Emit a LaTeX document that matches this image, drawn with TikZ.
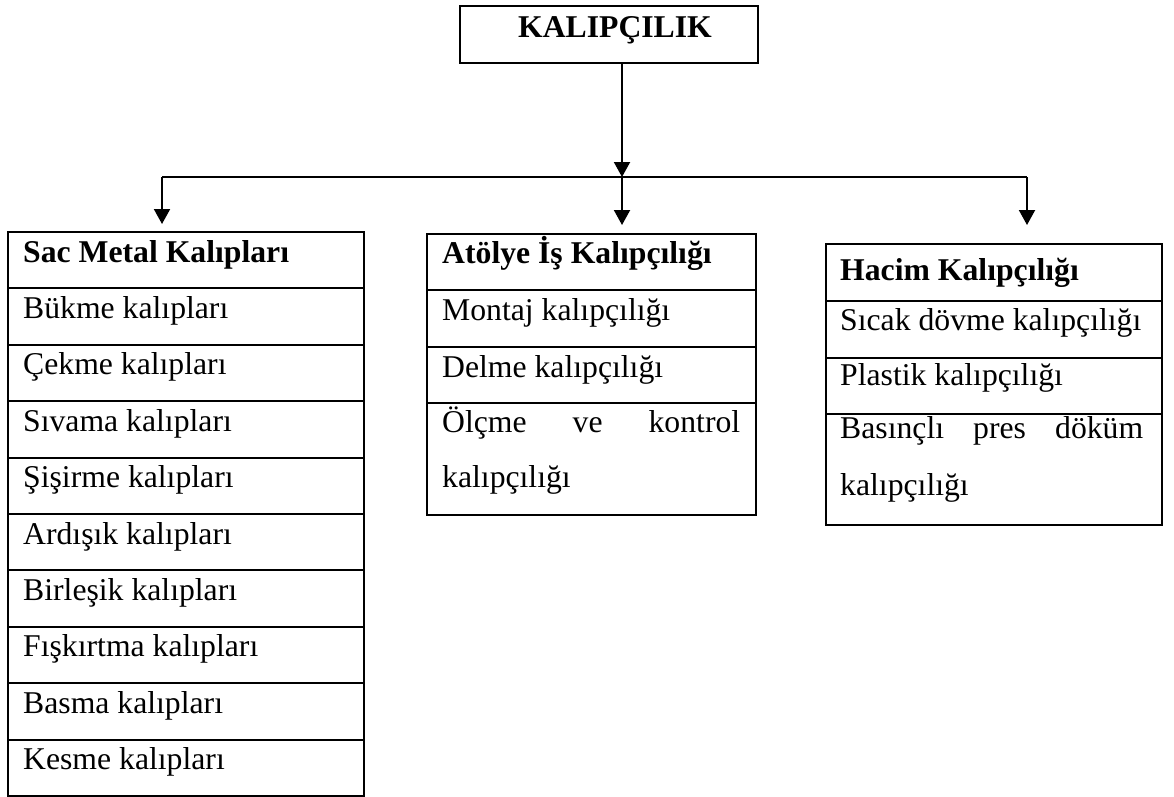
\documentclass[tikz,border=0pt]{standalone}
\usepackage{fontspec}
\setmainfont{Liberation Serif}
\usetikzlibrary{arrows.meta}
\begin{document}
\begin{tikzpicture}[x=1pt,y=-1pt,
  frame/.style={draw, line width=2pt, inner sep=0pt, anchor=north west},
  lbl/.style={anchor=base west, inner sep=0pt, font=\fontsize{31.7}{38}\selectfont},
  hd/.style={anchor=base west, inner sep=0pt, font=\fontsize{31.7}{38}\selectfont\bfseries},
  arr/.style={line width=2pt, -{Triangle[length=15pt,width=16pt]}},
  bus/.style={line width=1.5pt}]
\useasboundingbox (0,0) rectangle (1174,796);

% top box
\node[frame, minimum width=298pt, minimum height=57pt] (top) at (459,5) {};
\node[hd, anchor=base] (toptxt) at (615,37) {KALIPÇILIK};

% bus
\coordinate (jm) at (622,177);
\coordinate (jl) at (162,177);
\coordinate (jr) at (1027,177);
\draw[bus] (jl) -- (jr);
\draw[arr] (top.south -| jm) -- (jm);

% left box
\node[frame, minimum width=356pt, minimum height=56.4pt] (l0) at (7,231) {};
\node[hd] (lt0) at ([xshift=16pt,yshift=-31pt]l0.north west) {Sac Metal Kalıpları};
\foreach \txt [count=\i] in {Bükme kalıpları, Çekme kalıpları, Sıvama kalıpları, Şişirme kalıpları, Ardışık kalıpları, Birleşik kalıpları, Fışkırtma kalıpları, Basma kalıpları, Kesme kalıpları}{
  \node[frame, minimum width=356pt, minimum height=56.4pt] (l\i) at (7,{231+56.4*\i}) {};
  \node[lbl] (lt\i) at ([xshift=16pt,yshift=-31pt]l\i.north west) {\txt};
}

% middle box
\node[frame, minimum width=329pt, minimum height=56pt] (m0) at (426,233) {};
\node[frame, minimum width=329pt, minimum height=57pt] (m1) at (426,289) {};
\node[frame, minimum width=329pt, minimum height=56pt] (m2) at (426,346) {};
\node[frame, minimum width=329pt, minimum height=112pt] (m3) at (426,402) {};
\node[hd] (mt0) at (442,263) {Atölye İş Kalıpçılığı};
\node[lbl] (mt1) at (442,320) {Montaj kalıpçılığı};
\node[lbl] (mt2) at (442,377) {Delme kalıpçılığı};
\node[lbl] (mt3) at (442,432) {\makebox[298pt][l]{Ölçme\hfill ve\hfill kontrol}};
\node[lbl] (mt4) at (442,487) {kalıpçılığı};

% right box
\node[frame, minimum width=336pt, minimum height=57pt] (r0) at (825,243) {};
\node[frame, minimum width=336pt, minimum height=57pt] (r1) at (825,300) {};
\node[frame, minimum width=336pt, minimum height=56pt] (r2) at (825,357) {};
\node[frame, minimum width=336pt, minimum height=111pt] (r3) at (825,413) {};
\node[hd] (rt0) at (840,280) {Hacim Kalıpçılığı};
\node[lbl] (rt1) at (840,330) {Sıcak dövme kalıpçılığı};
\node[lbl] (rt2) at (840,385) {Plastik kalıpçılığı};
\node[lbl] (rt3) at (840,438) {\makebox[303pt][l]{Basınçlı\hfill pres\hfill döküm}};
\node[lbl] (rt4) at (840,495) {kalıpçılığı};

% branch arrows
\draw[arr, shorten >=7pt] (jl) -- (jl |- l0.north);
\draw[arr, shorten >=8pt] (jm) -- (jm |- m0.north);
\draw[arr, shorten >=18pt] (jr) -- (jr |- r0.north);
\end{tikzpicture}
\end{document}
